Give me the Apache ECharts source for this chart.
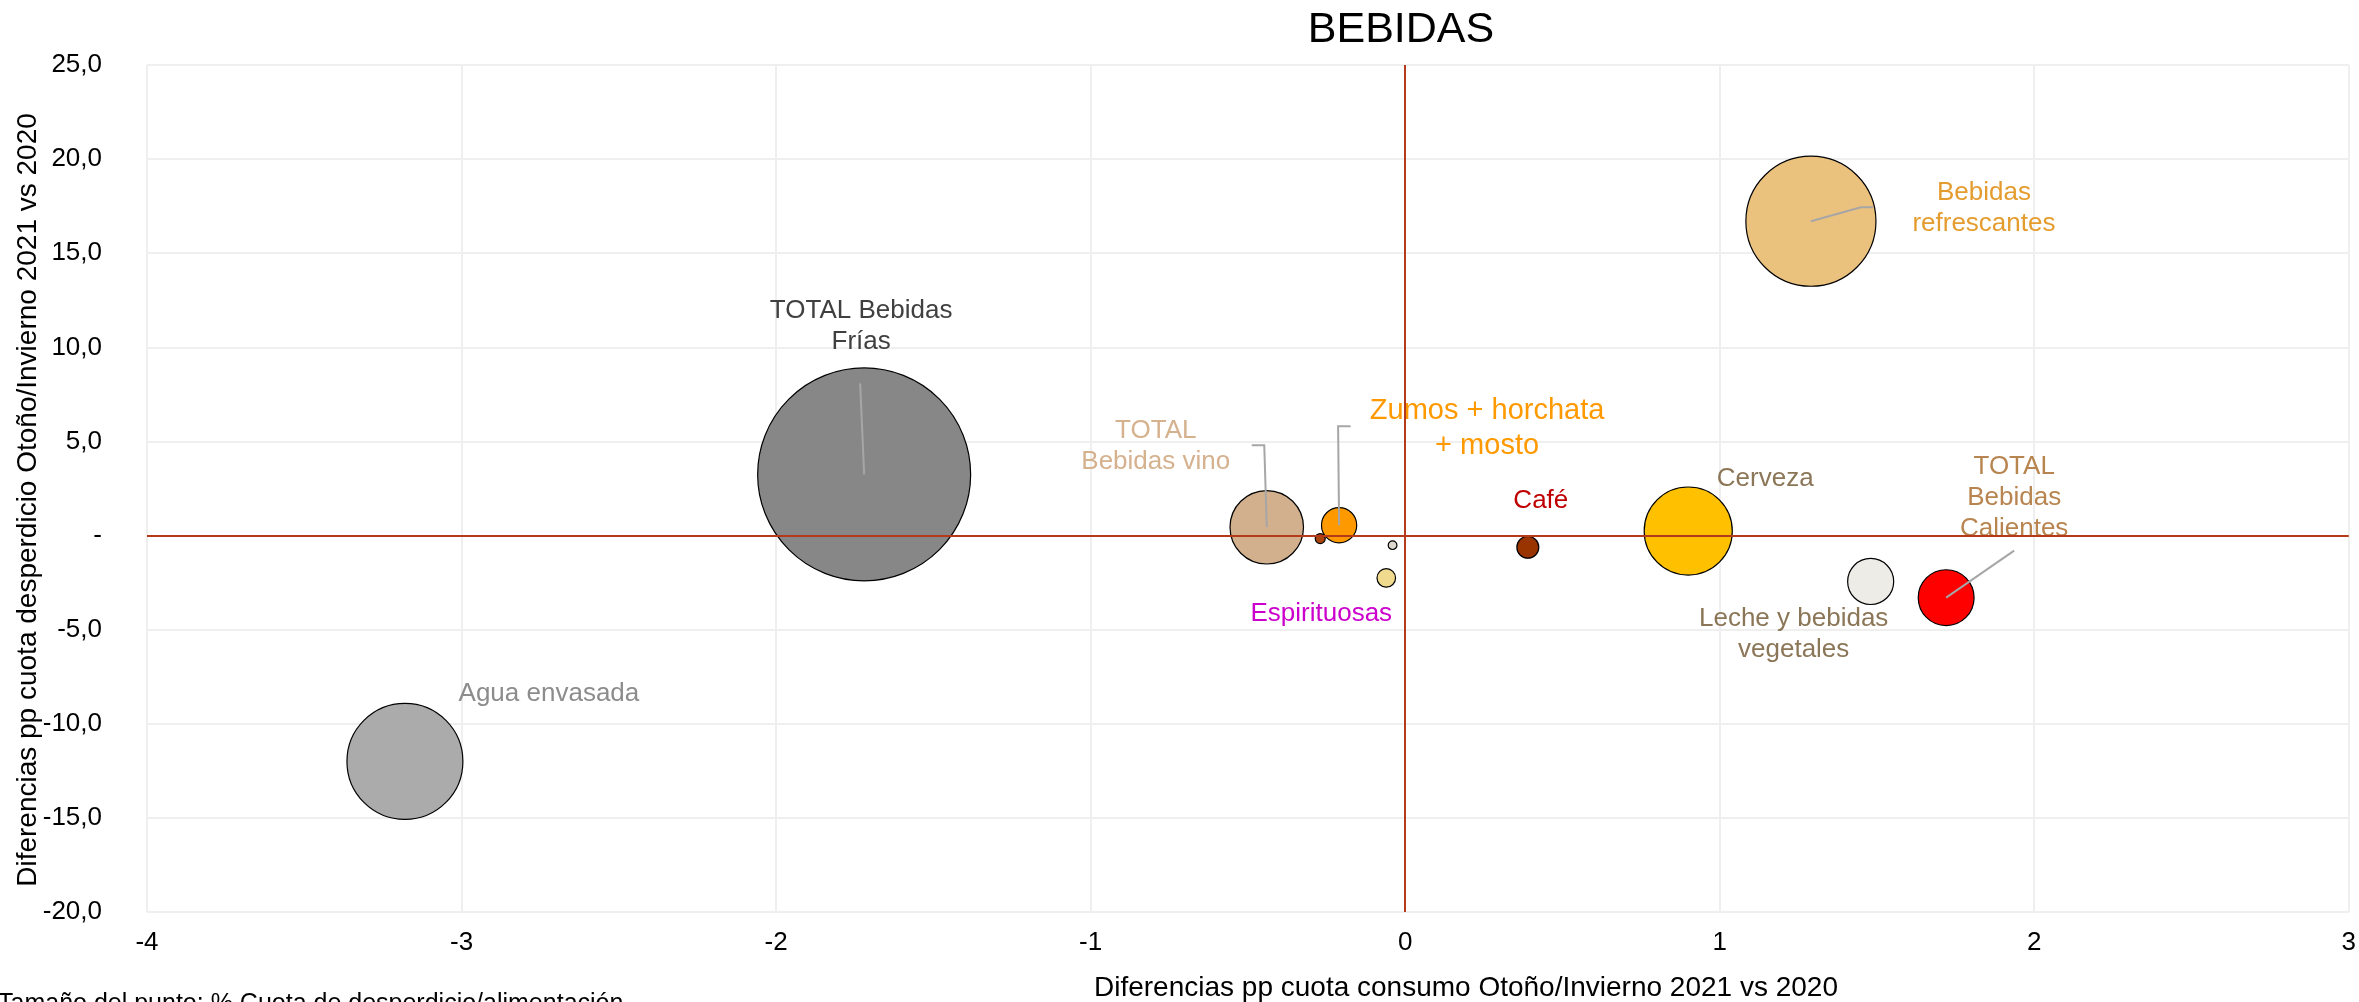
<!DOCTYPE html>
<html>
<head>
<meta charset="utf-8">
<script src="https://cdn.jsdelivr.net/npm/echarts@6/dist/echarts.min.js"></script>
<style>
html,body{margin:0;padding:0;background:#fff;overflow:hidden}
#c{width:2359px;height:1002px}
</style>
</head>
<body>
<div id="c"></div>
<script>
// ---------- DATA ----------
const categorias = [
  'TOTAL Bebidas Frías', 'Bebidas refrescantes', 'Agua envasada', 'Cerveza',
  'TOTAL Bebidas vino', 'Zumos + horchata + mosto', 'Espirituosas',
  'Otras bebidas (a)', 'Otras bebidas (b)',
  'TOTAL Bebidas Calientes', 'Leche y bebidas vegetales', 'Café'
];
// Diferencias pp cuota consumo (eje X)
const difConsumo = [-1.72, 1.29, -3.18, 0.90, -0.44, -0.21, -0.06, -0.27, -0.04, 1.72, 1.48, 0.39];
// Diferencias pp cuota desperdicio (eje Y)
const difDesperdicio = [3.25, 16.7, -12.0, 0.24, 0.44, 0.55, -2.25, -0.16, -0.51, -3.30, -2.44, -0.62];
// Tamaño de burbuja (% cuota)
const cuotaTamano = [11.34, 4.23, 3.36, 1.94, 1.35, 0.31, 0.086, 0.025, 0.019, 0.78, 0.53, 0.12];
// Etiquetas visibles
const etiquetas = [
  'TOTAL Bebidas\nFrías', 'Bebidas\nrefrescantes', 'Agua envasada', 'Cerveza',
  'TOTAL\nBebidas vino', 'Zumos + horchata\n+ mosto', 'Espirituosas',
  '', '', 'TOTAL\nBebidas\nCalientes', 'Leche y bebidas\nvegetales', 'Café'
];
const ejeX = { min: -4, max: 3, interval: 1 };
const ejeY = { min: -20, max: 25, interval: 5 };
const titulo = 'BEBIDAS';
const nombreX = 'Diferencias pp cuota consumo Otoño/Invierno 2021 vs 2020';
const nombreY = 'Diferencias pp cuota desperdicio Otoño/Invierno 2021 vs 2020';
const nota = 'Tamaño del punto: % Cuota de desperdicio/alimentación';

// ---------- STYLES ----------
const FONT = '"Liberation Sans", Arial, Helvetica, sans-serif';
const estilos = {
  'TOTAL Bebidas Frías':       { fill: '#878787', txt: '#404040', off: [-3, -148], leader: [[0, 0], [-4, -91]] },
  'Bebidas refrescantes':      { fill: '#EBC17E', txt: '#E59C2E', off: [173, -13], leader: [[0, 0], [50, -14], [62, -14]] },
  'Agua envasada':             { fill: '#ABABAB', txt: '#8C8C8C', off: [144, -68] },
  'Cerveza':                   { fill: '#FFC000', txt: '#8B7657', off: [77, -52] },
  'TOTAL Bebidas vino':        { fill: '#D2B08E', txt: '#D5B18E', off: [-111, -81], leader: [[0, 0], [-2.5, -82], [-15, -82]] },
  'Zumos + horchata + mosto':  { fill: '#FF9900', txt: '#FF9900', off: [148, -97], fs: 29, lh: 35, leader: [[0, 0], [-1, -99], [11.5, -99]] },
  'Espirituosas':              { fill: '#F0DA8E', txt: '#CC00CC', off: [-65, 35.5] },
  'Otras bebidas (a)':         { fill: '#A8450F', txt: '#000', off: [0, 0] },
  'Otras bebidas (b)':         { fill: '#DDD8CE', txt: '#000', off: [0, 0] },
  'TOTAL Bebidas Calientes':   { fill: '#FF0000', txt: '#B8844F', off: [68, -100], leader: [[0, 0], [68, -47]] },
  'Leche y bebidas vegetales': { fill: '#EEECE6', txt: '#8B7657', off: [-77, 53] },
  'Café':                      { fill: '#993300', txt: '#C00000', off: [13, -46] }
};
const colorCero = '#B5391B';
const colorGrid = '#EFEFEF';

const fmtY = v => v === 0 ? '-' : v.toFixed(1).replace('.', ',');

const datos = categorias.map((c, i) => {
  const st = estilos[c];
  return {
    name: c,
    value: [difConsumo[i], difDesperdicio[i], cuotaTamano[i]],
    itemStyle: { color: st.fill, borderColor: '#000', borderWidth: 1.2, opacity: 1 },
    label: {
      show: !!etiquetas[i],
      formatter: etiquetas[i],
      position: 'inside',
      align: 'center',
      verticalAlign: 'middle',
      offset: st.off,
      color: st.txt,
      fontFamily: FONT,
      fontSize: st.fs || 26,
      lineHeight: st.lh || 31
    }
  };
});

const chart = echarts.init(document.getElementById('c'), null, { renderer: 'canvas' });
chart.setOption({
  animation: false,
  backgroundColor: '#fff',
  grid: { left: 147, right: 9, top: 65, bottom: 90 },
  xAxis: {
    type: 'value', min: ejeX.min, max: ejeX.max, interval: ejeX.interval,
    axisLine: { show: false, onZero: false }, axisTick: { show: false },
    splitLine: { show: true, lineStyle: { color: colorGrid, width: 2 } },
    axisLabel: { color: '#000', fontFamily: FONT, fontSize: 26, margin: 18 }
  },
  yAxis: {
    type: 'value', min: ejeY.min, max: ejeY.max, interval: ejeY.interval,
    axisLine: { show: false, onZero: false }, axisTick: { show: false },
    splitLine: { show: true, lineStyle: { color: colorGrid, width: 2 } },
    axisLabel: { color: '#000', fontFamily: FONT, fontSize: 26, margin: 45, formatter: fmtY }
  },
  series: [
    {
      type: 'scatter', z: 1, data: [], silent: true,
      markLine: {
        silent: true, symbol: 'none', animation: false,
        label: { show: false },
        lineStyle: { color: colorCero, width: 2, type: 'solid' },
        data: [{ xAxis: 0 }, { yAxis: 0 }]
      }
    },
    {
      type: 'scatter', z: 3,
      symbol: 'circle',
      symbolSize: v => 63.25 * Math.sqrt(v[2]),
      data: datos,
      emphasis: { disabled: true }
    }
  ]
});

// leader lines & texts
const graficos = [];
categorias.forEach((c, i) => {
  const st = estilos[c];
  if (!st.leader) return;
  const p = chart.convertToPixel({ seriesIndex: 1 }, [difConsumo[i], difDesperdicio[i]]);
  graficos.push({
    type: 'polyline', z: 50, silent: true,
    shape: { points: st.leader.map(o => [p[0] + o[0], p[1] + o[1]]) },
    style: { stroke: '#A6A6A6', lineWidth: 2, fill: null }
  });
});
graficos.push({
  type: 'text', x: 1401, y: 30, z: 60,
  style: { text: titulo, fill: '#000', font: '43px ' + FONT, textAlign: 'center', textVerticalAlign: 'middle' }
});
graficos.push({
  type: 'text', x: 1466, y: 988, z: 60,
  style: { text: nombreX, fill: '#000', font: '28px ' + FONT, textAlign: 'center', textVerticalAlign: 'middle' }
});
graficos.push({
  type: 'text', x: 28, y: 500, z: 60, rotation: Math.PI / 2,
  style: { text: nombreY, fill: '#000', font: '28px ' + FONT, textAlign: 'center', textVerticalAlign: 'middle' }
});
graficos.push({
  type: 'text', x: -2, y: 992, z: 60,
  style: { text: nota, fill: '#000', font: '25px ' + FONT, textAlign: 'left', textVerticalAlign: 'top' }
});
chart.setOption({ graphic: graficos });
</script>
</body>
</html>
